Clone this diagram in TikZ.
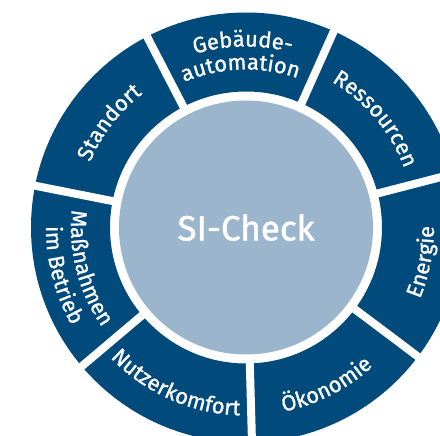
\documentclass[tikz,border=0pt]{standalone}
\usepackage{fontspec}
\setmainfont{Fira Sans}
\newfontfamily\segfont{Fira Sans}[FakeBold=1.0]
\newfontfamily\corefont{Fira Sans}[FakeBold=1.4]
\usetikzlibrary{decorations.text}
\definecolor{ringblue}{RGB}{0,74,124}
\definecolor{coreblue}{RGB}{155,182,204}
\newcommand\segf{\segfont\fontsize{22pt}{26pt}\selectfont}
\tikzset{
  seglabel/.style={decorate, decoration={text along path, text color=white, text align=center, text={#1}}},
  gap/.style={white, line width=8pt}
}
\begin{document}
\begin{tikzpicture}[x=1pt,y=1pt]
\useasboundingbox (0,0) rectangle (440,-436);
\clip (0,0) rectangle (440,-436);
\begin{scope}[shift={(246,-227.5)}]
  \fill[ringblue,even odd rule] (0,0) circle[radius=215] (0,0) circle[radius=136];
  \foreach \a in {14.5,65.9,117.4,168.8,220.2,271.6,323.1}
    \draw[gap] (\a:128) -- (\a:235);
  \fill[coreblue] (0,0) circle[radius=127];
  \node[text=white, font=\corefont\fontsize{35pt}{40pt}\selectfont] (core) at (0,0) {SI-Check};
  % top labels (clockwise, tops outward)
  \path[seglabel={|\segf|Gebäude-}] (116:181) arc[start angle=116, end angle=66, radius=181];
  \path[seglabel={|\segf|automation}] (117:158) arc[start angle=117, end angle=67, radius=158];
  \path[seglabel={|\segf|Standort}] (167:169) arc[start angle=167, end angle=118, radius=169];
  \path[seglabel={|\segf|Ressourcen}] (65:169) arc[start angle=65, end angle=15, radius=169];
  % bottom labels (counter-clockwise, tops inward)
  \path[seglabel={|\segf|Energie}] (324:188) arc[start angle=324, end angle=374, radius=188];
  \path[seglabel={|\segf|Ökonomie}] (272:188) arc[start angle=272, end angle=322, radius=188];
  \path[seglabel={|\segf|Nutzerkomfort}] (220.5:188) arc[start angle=220.5, end angle=271.5, radius=188];
  \path[seglabel={|\segf|Maßnahmen}] (170:175) arc[start angle=170, end angle=219, radius=175];
  \path[seglabel={|\segf|im Betrieb}] (170:200) arc[start angle=170, end angle=219, radius=200];
\end{scope}
\end{tikzpicture}
\end{document}
